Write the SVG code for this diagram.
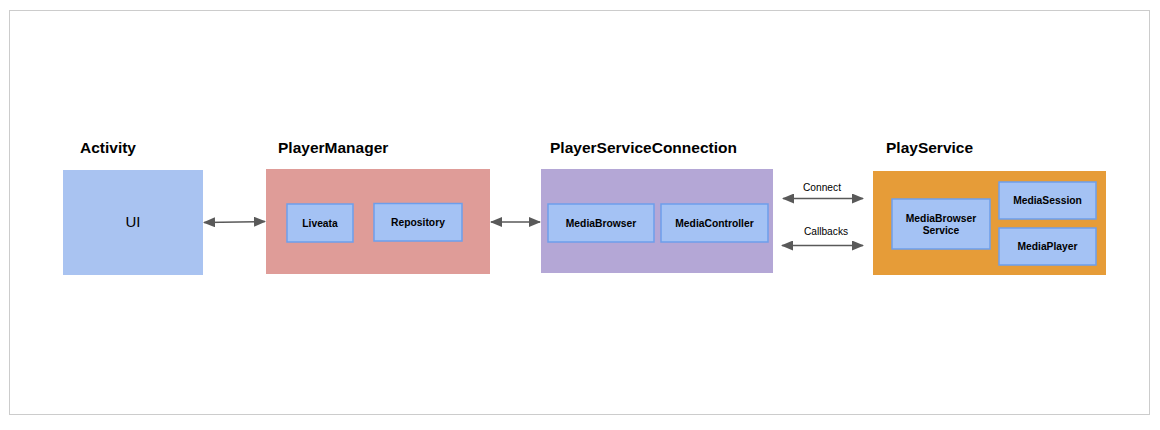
<svg xmlns="http://www.w3.org/2000/svg" width="1160" height="430" viewBox="0 0 1160 430">
<defs>
<marker id="ah" viewBox="0 0 12 10" refX="11" refY="5" markerWidth="12" markerHeight="10" markerUnits="userSpaceOnUse" orient="auto-start-reverse">
<path d="M0,0 L12,5 L0,10 Z" fill="#595959"/>
</marker>
<style>
.title{font-family:"Liberation Sans",Arial,sans-serif;font-weight:bold;font-size:15.5px;fill:#000}
.lbl{font-family:"Liberation Sans",Arial,sans-serif;font-weight:bold;font-size:10.3px;fill:#000;text-anchor:middle}
.small{font-family:"Liberation Sans",Arial,sans-serif;font-size:10.2px;fill:#000;text-anchor:middle}
.inner{fill:#a4c2f4;stroke:#6d9eeb;stroke-width:1.5}
.conn{stroke:#595959;stroke-width:1.5;fill:none;marker-start:url(#ah);marker-end:url(#ah)}
</style>
</defs>
<rect x="0" y="0" width="1160" height="430" fill="#ffffff"/>
<rect x="9.5" y="10.5" width="1140" height="404" fill="none" stroke="#cccccc" stroke-width="1"/>

<g id="activity">
<text class="title" x="80" y="153">Activity</text>
<rect x="63" y="170" width="140" height="105" fill="#a9c3f1"/>
<text x="133" y="227" font-family="Liberation Sans, Arial, sans-serif" font-size="15" text-anchor="middle">UI</text>
</g>

<g id="playerManager">
<text class="title" x="278" y="153">PlayerManager</text>
<rect x="266" y="169" width="224" height="105" fill="#df9c98"/>
<g id="liveata">
<rect class="inner" x="287" y="204" width="66" height="38"/>
<text class="lbl" x="320" y="227">Liveata</text>
</g>
<g id="repository">
<rect class="inner" x="374" y="203.5" width="88" height="37.5"/>
<text class="lbl" x="418" y="226">Repository</text>
</g>
</g>

<g id="playerServiceConnection">
<text class="title" x="550" y="153">PlayerServiceConnection</text>
<rect x="541" y="169" width="232" height="104" fill="#b4a7d6"/>
<g id="mediaBrowser">
<rect class="inner" x="548" y="204" width="106" height="38"/>
<text class="lbl" x="601" y="227">MediaBrowser</text>
</g>
<g id="mediaController">
<rect class="inner" x="661" y="204" width="107" height="38"/>
<text class="lbl" x="714.5" y="227">MediaController</text>
</g>
</g>

<g id="playService">
<text class="title" x="886" y="153">PlayService</text>
<rect x="873" y="171" width="233" height="104" fill="#e69c38"/>
<g id="mediaBrowserService">
<rect class="inner" x="892" y="199" width="98" height="50"/>
<text class="lbl" x="941" y="222">MediaBrowser</text>
<text class="lbl" x="941" y="234">Service</text>
</g>
<g id="mediaSession">
<rect class="inner" x="999" y="182" width="97" height="37"/>
<text class="lbl" x="1047.5" y="204">MediaSession</text>
</g>
<g id="mediaPlayer">
<rect class="inner" x="999" y="228" width="97" height="37"/>
<text class="lbl" x="1047.5" y="250">MediaPlayer</text>
</g>
</g>

<g id="connectors">
<line class="conn" x1="204" y1="222.5" x2="265" y2="221.5"/>
<line class="conn" x1="491" y1="222" x2="540" y2="222"/>
<line class="conn" x1="783" y1="198.5" x2="863" y2="198.5"/>
<text class="small" x="822" y="191">Connect</text>
<line class="conn" x1="782" y1="245.5" x2="863" y2="245.5"/>
<text class="small" x="826" y="235">Callbacks</text>
</g>
</svg>
